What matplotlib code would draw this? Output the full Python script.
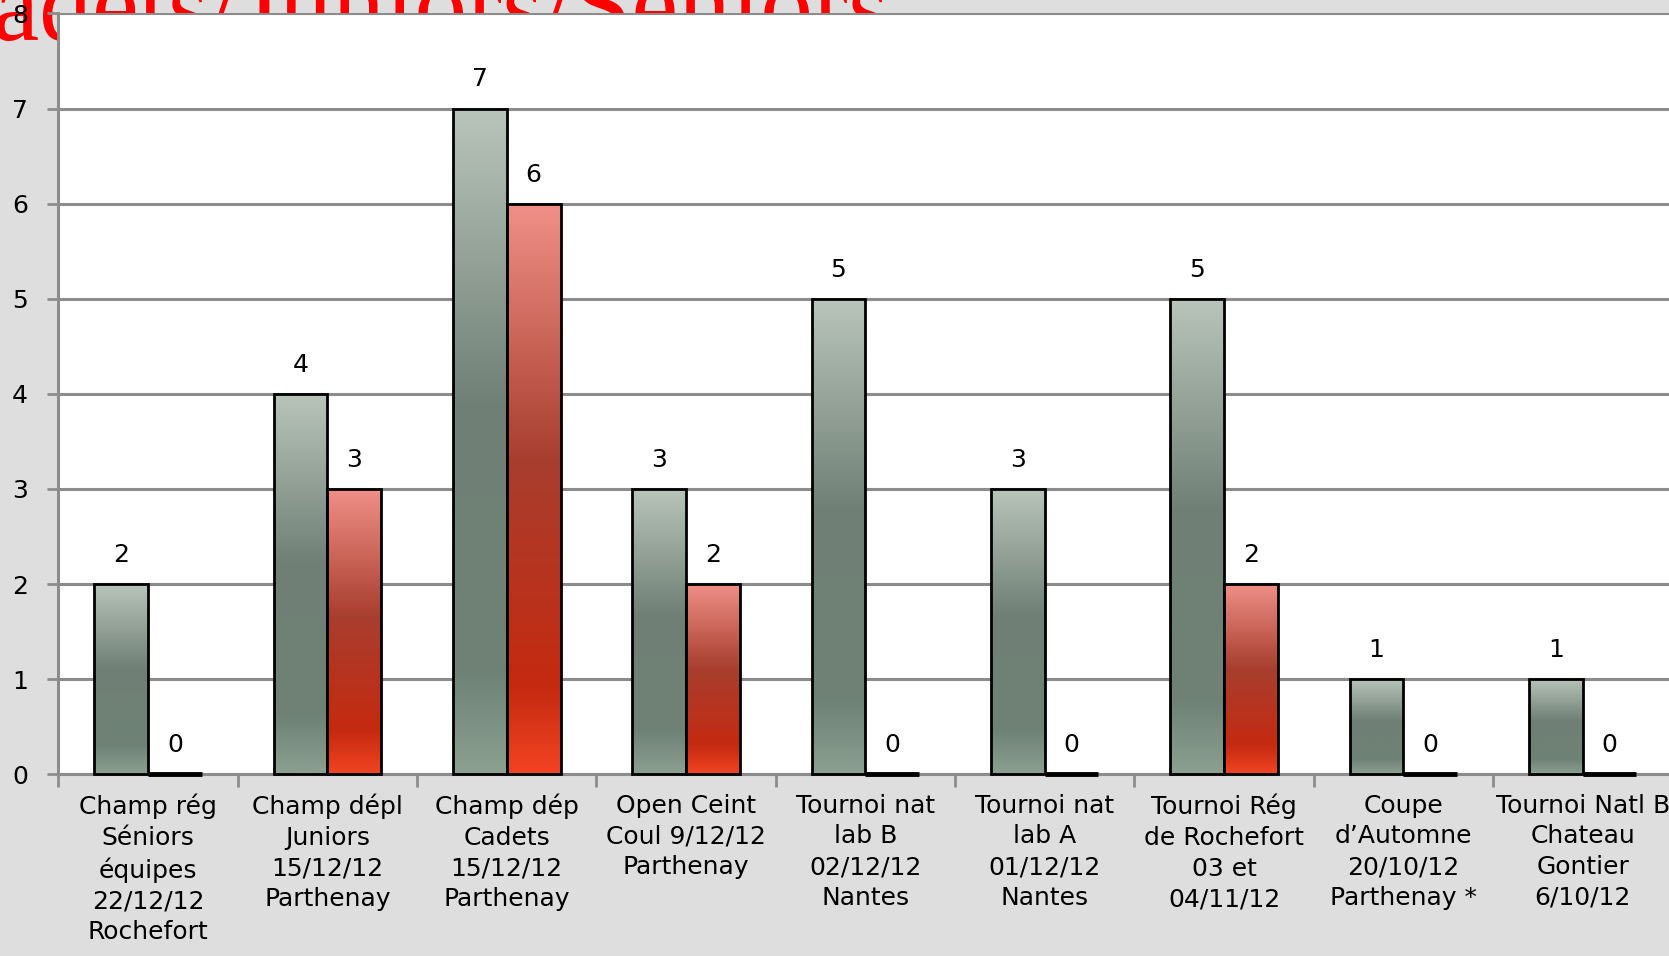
import matplotlib.pyplot as plt
import numpy as np
from matplotlib.colors import LinearSegmentedColormap

categories = [
    "Champ rég\nSéniors\néquipes\n22/12/12\nRochefort",
    "Champ dépl\nJuniors\n15/12/12\nParthenay",
    "Champ dép\nCadets\n15/12/12\nParthenay",
    "Open Ceint\nCoul 9/12/12\nParthenay",
    "Tournoi nat\nlab B\n02/12/12\nNantes",
    "Tournoi nat\nlab A\n01/12/12\nNantes",
    "Tournoi Rég\nde Rochefort\n03 et\n04/11/12",
    "Coupe\nd\u2019Automne\n20/10/12\nParthenay *",
    "Tournoi Natl B\nChateau\nGontier\n6/10/12",
]
series_gray = [2, 4, 7, 3, 5, 3, 5, 1, 1]
series_red = [0, 3, 6, 2, 0, 0, 2, 0, 0]
yticks = [0, 1, 2, 3, 4, 5, 6, 7, 8]
title = "Cadets/Juniors/Séniors"

gray_cmap = LinearSegmentedColormap.from_list(
    "g", [(0, "#b9c5bb"), (0.45, "#6f7f75"), (0.85, "#6f8276"), (1, "#8ca091")])
red_cmap = LinearSegmentedColormap.from_list(
    "r", [(0, "#f09088"), (0.45, "#a83e2e"), (0.85, "#c52a10"), (1, "#f24422")])

fig = plt.figure(figsize=(16.69, 9.56), dpi=100)
fig.patch.set_facecolor("#dedede")
ax = fig.add_axes([0.035, 0.19, 0.967, 0.796])
ax.set_facecolor("white")

# big red title sitting behind the plot area, cut by the top edge
fig.text(0.533, 0.958, title, ha="right", va="baseline", color="#ff0000",
         fontsize=76, family="Liberation Serif", zorder=-1)

x = np.arange(len(categories))
w = 0.3
grad = np.linspace(0, 1, 256).reshape(-1, 1)


def gradient_bars(xs, vals, cmap):
    bars = ax.bar(xs, vals, width=w, facecolor="none", edgecolor="black",
                  linewidth=2, zorder=3, clip_on=False)
    for b, v in zip(bars, vals):
        cx = b.get_x() + b.get_width() / 2
        ax.text(cx, v + 0.18, str(v), ha="center", va="bottom", fontsize=18)
        if v <= 0:
            b.set_linewidth(3.5)
            continue
        x0 = b.get_x()
        im = ax.imshow(grad, cmap=cmap, aspect="auto",
                       extent=[x0, x0 + b.get_width(), 0, v],
                       origin="upper", zorder=2.5)
        im.set_clip_path(b)
    return bars


gradient_bars(x - 0.15, series_gray, gray_cmap)
gradient_bars(x + 0.15, series_red, red_cmap)

ax.set_xlim(-0.5, len(categories) - 0.5)
ax.set_ylim(0, 8)
ax.set_yticks(yticks)
ax.set_yticklabels([str(t) for t in yticks], fontsize=18)
ax.yaxis.grid(True, color="#8c8c8c", linewidth=2.2)
ax.set_axisbelow(True)

ax.set_xticks(x)
ax.set_xticklabels(categories, fontsize=18, linespacing=1.35)
ax.tick_params(axis="x", length=0, pad=14)
ax.set_xticks(np.arange(-0.5, len(categories), 1), minor=True)
ax.tick_params(axis="x", which="minor", length=9, width=2, color="#8c8c8c")
ax.tick_params(axis="y", length=8, width=2, color="#8c8c8c", pad=14)

for s in ["top", "right"]:
    ax.spines[s].set_visible(False)
for s in ["left", "bottom"]:
    ax.spines[s].set_color("#8c8c8c")
    ax.spines[s].set_linewidth(2.2)

fig.savefig("out.png", dpi=100)
